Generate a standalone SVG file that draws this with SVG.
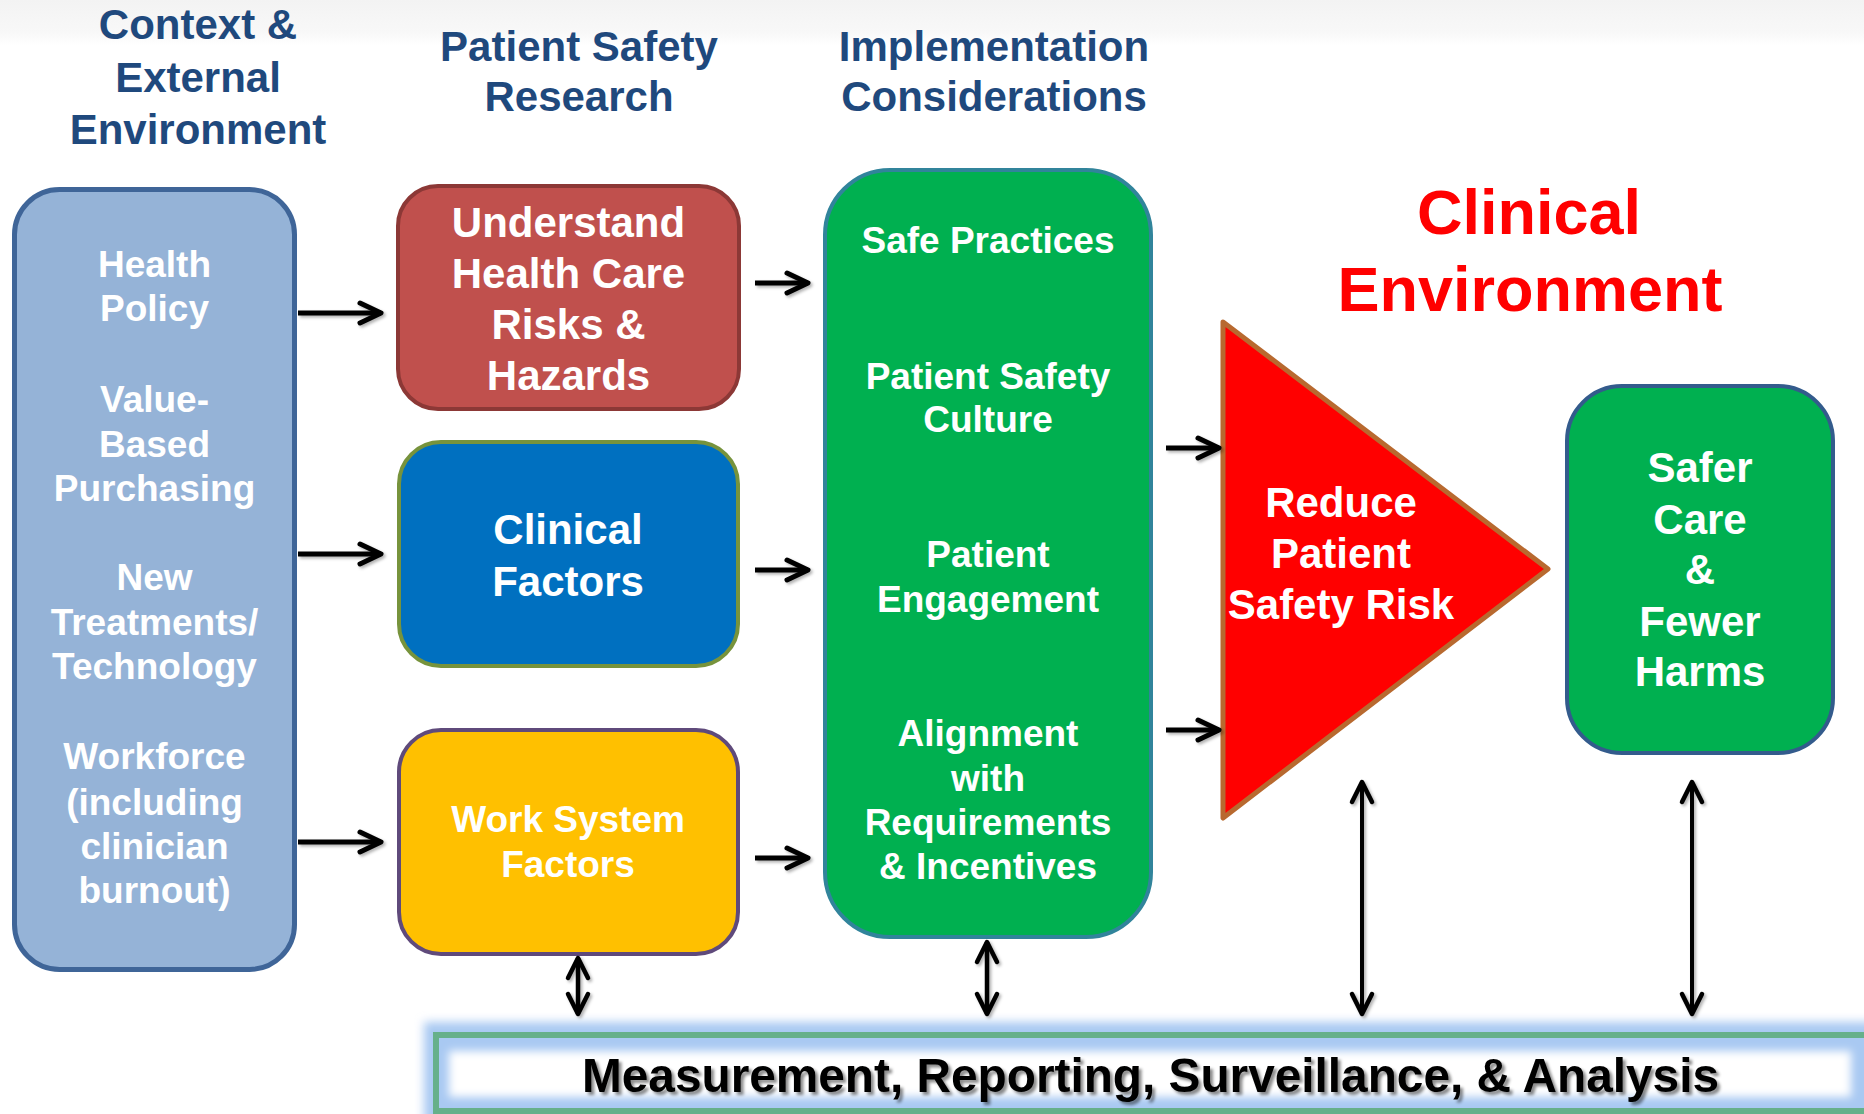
<svg xmlns="http://www.w3.org/2000/svg" width="1864" height="1114" viewBox="0 0 1864 1114">
  <defs>
    <linearGradient id="topBand" x1="0" y1="0" x2="0" y2="1">
      <stop offset="0" stop-color="#f3f3f3"/>
      <stop offset="0.7" stop-color="#f8f8f8"/>
      <stop offset="1" stop-color="#ffffff"/>
    </linearGradient>
    <filter id="soft" x="-10%" y="-10%" width="120%" height="120%">
      <feGaussianBlur stdDeviation="5"/>
    </filter>
    <filter id="softIn" x="-10%" y="-30%" width="120%" height="160%">
      <feGaussianBlur stdDeviation="4"/>
    </filter>
    <filter id="arrowShadow" x="-20%" y="-20%" width="140%" height="140%">
      <feDropShadow dx="2" dy="2" stdDeviation="1.5" flood-color="#000" flood-opacity="0.3"/>
    </filter>
    <filter id="textShadow" x="-5%" y="-20%" width="110%" height="140%">
      <feDropShadow dx="3" dy="3" stdDeviation="1.5" flood-color="#000" flood-opacity="0.45"/>
    </filter>
    <!-- open chevron heads -->
    <marker id="chev" markerUnits="userSpaceOnUse" viewBox="-26 -15 32 30" refX="0" refY="0"
            markerWidth="32" markerHeight="30" orient="auto-start-reverse" overflow="visible">
      <path d="M-21,-10 L0,0 L-21,10" fill="none" stroke="#000" stroke-width="5"
            stroke-linecap="round" stroke-linejoin="round"/>
    </marker>
    <marker id="chevV" markerUnits="userSpaceOnUse" viewBox="-26 -15 32 30" refX="0" refY="0"
            markerWidth="32" markerHeight="30" orient="auto-start-reverse" overflow="visible">
      <path d="M-20,-10 L0,0 L-20,10" fill="none" stroke="#000" stroke-width="4.5"
            stroke-linecap="round" stroke-linejoin="round"/>
    </marker>
    <style>
      .t { font-family: "Liberation Sans", Arial, sans-serif; font-weight: bold; text-anchor: middle; }
      .head { fill: #1f497d; font-size: 42px; }
      .w37 { fill: #ffffff; font-size: 37px; }
      .w42 { fill: #ffffff; font-size: 42px; }
      .red { fill: #ff0000; font-size: 63px; }
      .line { fill: none; stroke: #000; stroke-width: 5; }
      .vline { fill: none; stroke: #000; stroke-width: 4; }
      .vline2 { fill: none; stroke: #000; stroke-width: 4.5; }
    </style>
  </defs>

  <!-- background -->
  <rect x="0" y="0" width="1864" height="1114" fill="#ffffff"/>
  <rect x="0" y="0" width="1864" height="46" fill="url(#topBand)"/>

  <!-- column headings -->
  <g id="heading-context">
    <text class="t head" x="198" y="39">Context &amp;</text>
    <text class="t head" x="198" y="92">External</text>
    <text class="t head" x="198" y="144">Environment</text>
  </g>
  <g id="heading-research">
    <text class="t head" x="579" y="61">Patient Safety</text>
    <text class="t head" x="579" y="111">Research</text>
  </g>
  <g id="heading-implementation">
    <text class="t head" x="994" y="61">Implementation</text>
    <text class="t head" x="994" y="111">Considerations</text>
  </g>
  <g id="heading-clinical">
    <text class="t red" x="1529" y="234">Clinical</text>
    <text class="t red" x="1530" y="311">Environment</text>
  </g>

  <!-- context & external environment -->
  <g id="node-context">
    <rect x="14.5" y="189.5" width="280" height="780" rx="45" fill="#95b3d7" stroke="#3f6598" stroke-width="5"/>
    <text class="t w37" x="154.5" y="277">Health</text>
    <text class="t w37" x="154.5" y="321">Policy</text>
    <text class="t w37" x="154.5" y="412">Value-</text>
    <text class="t w37" x="154.5" y="457">Based</text>
    <text class="t w37" x="154.5" y="501">Purchasing</text>
    <text class="t w37" x="154.5" y="590">New</text>
    <text class="t w37" x="154.5" y="635">Treatments/</text>
    <text class="t w37" x="154.5" y="679">Technology</text>
    <text class="t w37" x="154.5" y="769">Workforce</text>
    <text class="t w37" x="154.5" y="815">(including</text>
    <text class="t w37" x="154.5" y="859">clinician</text>
    <text class="t w37" x="154.5" y="903">burnout)</text>
  </g>

  <!-- patient safety research -->
  <g id="node-risks">
    <rect x="398" y="186" width="341" height="223" rx="40" fill="#c0504d" stroke="#8c3836" stroke-width="4"/>
    <text class="t w42" x="568.5" y="237">Understand</text>
    <text class="t w42" x="568.5" y="288">Health Care</text>
    <text class="t w42" x="568.5" y="339">Risks &amp;</text>
    <text class="t w42" x="568.5" y="390">Hazards</text>
  </g>
  <g id="node-clinical-factors">
    <rect x="399" y="442" width="339" height="224" rx="42" fill="#0070c0" stroke="#77933c" stroke-width="4"/>
    <text class="t w42" x="568" y="544">Clinical</text>
    <text class="t w42" x="568" y="596">Factors</text>
  </g>
  <g id="node-work-system">
    <rect x="399" y="730" width="339" height="224" rx="42" fill="#ffc000" stroke="#5f4a7b" stroke-width="4"/>
    <text class="t w37" x="568" y="832">Work System</text>
    <text class="t w37" x="568" y="877">Factors</text>
  </g>

  <!-- implementation considerations -->
  <g id="node-implementation">
    <rect x="825" y="170" width="326" height="767" rx="65" fill="#00b050" stroke="#31849b" stroke-width="4"/>
    <text class="t w37" x="988" y="253">Safe Practices</text>
    <text class="t w37" x="988" y="389">Patient Safety</text>
    <text class="t w37" x="988" y="432">Culture</text>
    <text class="t w37" x="988" y="567">Patient</text>
    <text class="t w37" x="988" y="612">Engagement</text>
    <text class="t w37" x="988" y="746">Alignment</text>
    <text class="t w37" x="988" y="791">with</text>
    <text class="t w37" x="988" y="835">Requirements</text>
    <text class="t w37" x="988" y="879">&amp; Incentives</text>
  </g>

  <!-- reduce risk triangle -->
  <g id="node-reduce-risk">
    <polygon points="1223,322 1548,569 1223,818" fill="#ff0000" stroke="#b8692f" stroke-width="5" stroke-linejoin="round"/>
    <text class="t w42" x="1341" y="517">Reduce</text>
    <text class="t w42" x="1341" y="568">Patient</text>
    <text class="t w42" x="1341" y="619">Safety Risk</text>
  </g>

  <!-- outcome -->
  <g id="node-outcome">
    <rect x="1567" y="386" width="266" height="367" rx="55" fill="#00b050" stroke="#335b8c" stroke-width="4"/>
    <text class="t w42" x="1700" y="482">Safer</text>
    <text class="t w42" x="1700" y="534">Care</text>
    <text class="t w42" x="1700" y="584">&amp;</text>
    <text class="t w42" x="1700" y="636">Fewer</text>
    <text class="t w42" x="1700" y="686">Harms</text>
  </g>

  <!-- measurement bar -->
  <g id="node-measurement">
    <rect x="424" y="1022" width="1470" height="110" fill="#a9c9f2" filter="url(#soft)"/>
    <rect x="436" y="1035" width="1450" height="76" fill="#a9c9f2" stroke="#66b08a" stroke-width="6"/>
    <rect x="449" y="1051" width="1402" height="46" fill="#ffffff" filter="url(#softIn)"/>
    <text class="t" x="1150.5" y="1092" font-size="49" textLength="1137" lengthAdjust="spacingAndGlyphs"
          fill="#000000" filter="url(#textShadow)">Measurement, Reporting, Surveillance, &amp; Analysis</text>
  </g>

  <!-- connectors -->
  <g id="connectors" filter="url(#arrowShadow)">
    <line class="line" x1="298" y1="313" x2="381" y2="313" marker-end="url(#chev)"/>
    <line class="line" x1="298" y1="554" x2="381" y2="554" marker-end="url(#chev)"/>
    <line class="line" x1="298" y1="842" x2="381" y2="842" marker-end="url(#chev)"/>

    <line class="line" x1="755" y1="283" x2="808" y2="283" marker-end="url(#chev)"/>
    <line class="line" x1="755" y1="570" x2="808" y2="570" marker-end="url(#chev)"/>
    <line class="line" x1="755" y1="858" x2="808" y2="858" marker-end="url(#chev)"/>

    <line class="line" x1="1166" y1="448" x2="1219" y2="448" marker-end="url(#chev)"/>
    <line class="line" x1="1166" y1="730" x2="1219" y2="730" marker-end="url(#chev)"/>

    <line class="vline2" x1="578" y1="958" x2="578" y2="1014" marker-start="url(#chevV)" marker-end="url(#chevV)"/>
    <line class="vline2" x1="987" y1="942" x2="987" y2="1014" marker-start="url(#chevV)" marker-end="url(#chevV)"/>
    <line class="vline" x1="1362" y1="782" x2="1362" y2="1014" marker-start="url(#chevV)" marker-end="url(#chevV)"/>
    <line class="vline" x1="1692" y1="782" x2="1692" y2="1014" marker-start="url(#chevV)" marker-end="url(#chevV)"/>
  </g>
</svg>
